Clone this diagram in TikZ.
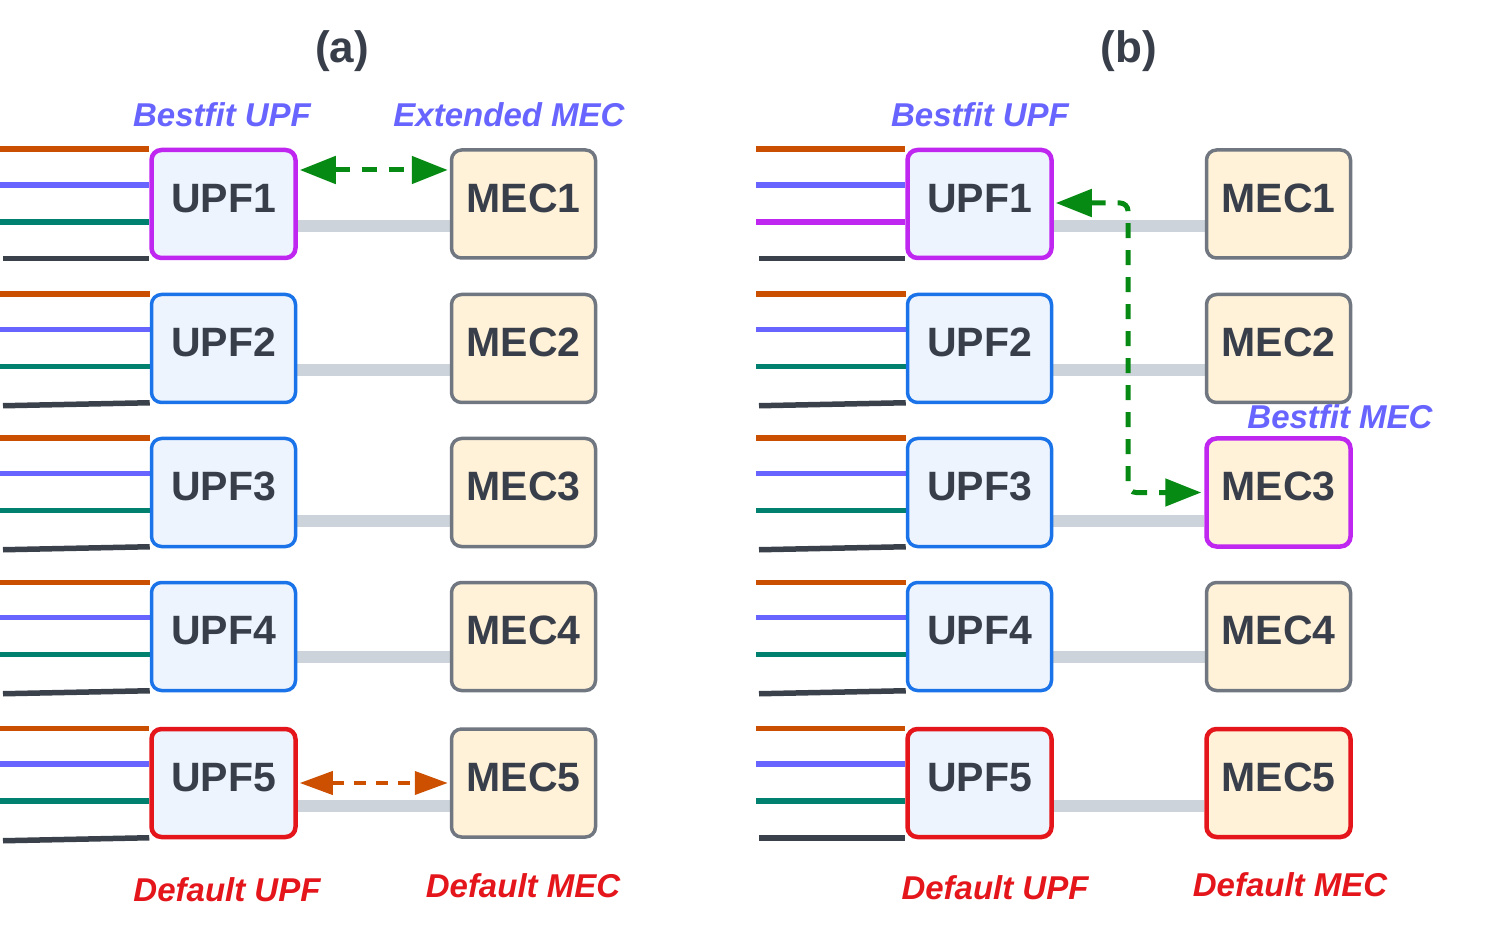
\documentclass[tikz,border=0pt]{standalone}
\usepackage{fontspec}
\setmainfont{Liberation Sans}
\usetikzlibrary{arrows.meta,backgrounds,calc}
\definecolor{cupf}{HTML}{EDF4FD}
\definecolor{cmec}{HTML}{FFF2D9}
\definecolor{cblue}{HTML}{1A73E8}
\definecolor{cgrey}{HTML}{717780}
\definecolor{cpurple}{HTML}{BF26F0}
\definecolor{cred}{HTML}{E4161B}
\definecolor{ctext}{HTML}{393F4A}
\definecolor{clblue}{HTML}{6764FF}
\definecolor{corange}{HTML}{CA4F00}
\definecolor{cteal}{HTML}{00806F}
\definecolor{cdark}{HTML}{3A414A}
\definecolor{cconn}{HTML}{CCD3DA}
\definecolor{cgreen}{HTML}{078A13}
\definecolor{carrow}{HTML}{CC5000}
\newcommand{\boxfont}{\fontsize{41}{49}\selectfont\bfseries}
\newcommand{\labfont}{\fontsize{33}{40}\selectfont\bfseries\itshape}
\newcommand{\panfont}{\fontsize{44}{52}\selectfont\bfseries}
\begin{document}
\begin{tikzpicture}[x=1pt,y=-1pt,
  nodebox/.style={rounded corners=10pt, line width=3.5pt, minimum width=144pt,
    minimum height=108pt, inner sep=0pt, text=ctext, font=\boxfont, text depth=12pt},
  upf/.style={nodebox, fill=cupf, draw=cblue},
  mec/.style={nodebox, fill=cmec, draw=cgrey},
  hilite/.style={draw=cpurple, line width=4.5pt},
  deflt/.style={draw=cred, line width=4.5pt},
  lab/.style={font=\labfont, anchor=base, inner sep=0pt},
  pan/.style={font=\panfont, text=ctext, anchor=base, inner sep=0pt},
  conn/.style={draw=cconn, line width=12pt},
  inline/.style={line width=5.5pt},
  garrow/.style={draw=cgreen, line width=5pt, dash pattern=on 15pt off 12pt,
    {Triangle[length=36pt,width=27pt]}-{Triangle[length=36pt,width=27pt]}},
  oarrow/.style={draw=carrow, line width=4pt, dash pattern=on 12pt off 10pt,
    {Triangle[length=33pt,width=23pt]}-{Triangle[length=33pt,width=23pt]}}
]
\useasboundingbox (0,0) rectangle (1489,949);

% panel (a)
\node[upf, hilite] (uA1) at (223.5,204) {UPF1};
\node[upf] (uA2) at (223.5,348.5) {UPF2};
\node[upf] (uA3) at (223.5,492.5) {UPF3};
\node[upf] (uA4) at (223.5,636.5) {UPF4};
\node[upf, deflt] (uA5) at (223.5,783) {UPF5};
\node[mec] (mA1) at (523.5,204) {MEC1};
\node[mec] (mA2) at (523.5,348.5) {MEC2};
\node[mec] (mA3) at (523.5,492.5) {MEC3};
\node[mec] (mA4) at (523.5,636.5) {MEC4};
\node[mec] (mA5) at (523.5,783) {MEC5};

% panel (b)
\node[upf, hilite] (uB1) at (979.5,204) {UPF1};
\node[upf] (uB2) at (979.5,348.5) {UPF2};
\node[upf] (uB3) at (979.5,492.5) {UPF3};
\node[upf] (uB4) at (979.5,636.5) {UPF4};
\node[upf, deflt] (uB5) at (979.5,783) {UPF5};
\node[mec] (mB1) at (1278.5,204) {MEC1};
\node[mec] (mB2) at (1278.5,348.5) {MEC2};
\node[mec, hilite] (mB3) at (1278.5,492.5) {MEC3};
\node[mec] (mB4) at (1278.5,636.5) {MEC4};
\node[mec, deflt] (mB5) at (1278.5,783) {MEC5};

% labels
\node[pan] (pa) at (342,63) {(a)};
\node[pan] (pb) at (1129,63) {(b)};
\node[lab, text=clblue] (bua) at (222,127) {Bestfit UPF};
\node[lab, text=clblue] (ema) at (509,127) {Extended MEC};
\node[lab, text=cred] (dua) at (227,901) {Default UPF};
\node[lab, text=cred] (dma) at (523,897) {Default MEC};
\node[lab, text=clblue] (bub) at (980,127) {Bestfit UPF};
\node[lab, text=clblue] (bmb) at (1340,429) {Bestfit MEC};
\node[lab, text=cred] (dub) at (995,899) {Default UPF};
\node[lab, text=cred] (dmb) at (1290,896) {Default MEC};

\coordinate (LA) at (0,0);
\coordinate (LB) at (756,0);

\begin{scope}[on background layer]
  \fill[white] (0,0) rectangle (1489,949);
  % feeder lines
  \foreach \s/\r/\tc/\sl in {A/1/cteal/0, A/2/cteal/3, A/3/cteal/3, A/4/cteal/3, A/5/cteal/3,
                              B/1/cpurple/0, B/2/cteal/3, B/3/cteal/3, B/4/cteal/3, B/5/cteal/0} {
    \coordinate (t1) at ([yshift=-1.5pt]u\s\r.north west);
    \coordinate (t2) at ($(u\s\r.north west)!0.33!(u\s\r.south west)$);
    \coordinate (t3) at ($(u\s\r.north west)!0.66!(u\s\r.south west)$);
    \coordinate (t4) at ([yshift=1.5pt]u\s\r.south west);
    \coordinate (s4) at ([xshift=3pt,yshift=-\sl pt]t4 -| L\s);
    \draw[inline, corange] (t1 -| L\s) -- (t1);
    \draw[inline, clblue] (t2 -| L\s) -- (t2);
    \draw[inline, \tc] (t3 -| L\s) -- (t3);
    \draw[inline, cdark] (s4) -- (t4);
  }
  % UPF-MEC links
  \foreach \s in {A,B} {
    \draw[conn] ([yshift=-22pt]u\s1.east) -- ([yshift=-22pt]m\s1.west);
    \draw[conn] ([yshift=-22pt]u\s2.east) -- ([yshift=-22pt]m\s2.west);
    \draw[conn] ([yshift=-28pt]u\s3.east) -- ([yshift=-28pt]m\s3.west);
    \draw[conn] ([yshift=-20pt]u\s4.east) -- ([yshift=-20pt]m\s4.west);
    \draw[conn] ([yshift=-23pt]u\s5.east) -- ([yshift=-23pt]m\s5.west);
  }
\end{scope}

% arrows
\draw[garrow] ([yshift=34pt,xshift=2pt]uA1.east) -- ([yshift=34pt,xshift=-2pt]mA1.west);
\draw[oarrow] ([xshift=2pt]uA5.east) -- ([xshift=-2pt]mA5.west);
\coordinate (bend) at (1128,492.5);
\draw[garrow, rounded corners=8pt] ([yshift=1pt,xshift=2pt]uB1.east) -| (bend) -- ([xshift=-3pt]mB3.west);
\end{tikzpicture}
\end{document}
